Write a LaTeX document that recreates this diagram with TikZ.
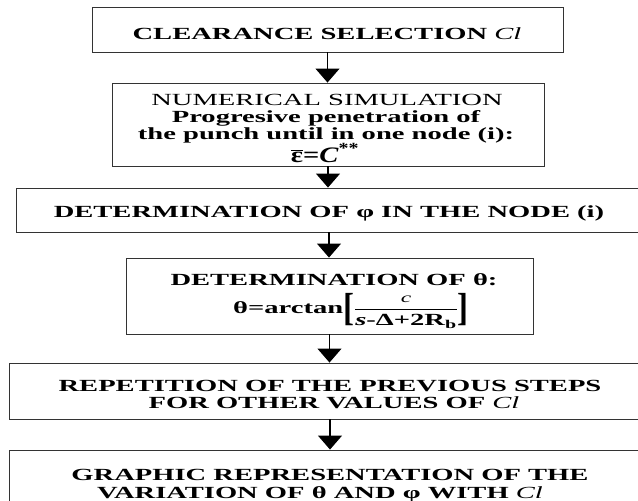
\documentclass[tikz,border=0pt]{standalone}
\usepackage{fontspec}
\usepackage{graphicx}
\setmainfont{Liberation Serif}[FakeStretch=1.68]
\usetikzlibrary{arrows.meta}
\newcommand{\bigbrk}[1]{\ensuremath{\vcenter{\hbox{\scalebox{1.15}[2.3]{#1}}}}}
\begin{document}
\begin{tikzpicture}[x=1pt,y=-1pt,
  box/.style={draw=black!80, line width=0.9pt, inner sep=0pt, rectangle},
  txt/.style={anchor=base, inner sep=0pt, font=\fontsize{17}{19}\selectfont\bfseries},
  arr/.style={draw=black, line width=1.2pt, -{Triangle[width=24pt,length=14pt]}}]
\useasboundingbox (0,0) rectangle (638,501);
% boxes
\node[box, minimum width=471pt, minimum height=45pt] (b1) at (327.5,29.5) {};
\node[box, minimum width=432pt, minimum height=83pt] (b2) at (328,124.5) {};
\node[box, minimum width=626pt, minimum height=44pt] (b3) at (329,210) {};
\node[box, minimum width=407pt, minimum height=76pt] (b4) at (329.5,296) {};
\node[box, minimum width=642pt, minimum height=56pt] (b5) at (330,391) {};
\node[box, minimum width=642pt, minimum height=70pt] (b6) at (330,485) {};
% texts
\node[txt] (t1) at (327,39) {CLEARANCE SELECTION \textmd{\textit{Cl}}};
\node[txt, font=\fontsize{17}{19}\selectfont\mdseries] (t2a) at (327,105) {NUMERICAL SIMULATION};
\node[txt] (t2b) at (326,122) {Progresive penetration of};
\node[txt] (t2c) at (326,139) {the punch until in one node (i):};
\node[txt] (t2d) at (325,162) {\scalebox{1}[1.3]{$\overline{\mbox{ε}}$=\textit{C}\textsuperscript{**}}};
\node[txt] (t3) at (329,217) {DETERMINATION OF φ IN THE NODE (i)};
\node[txt] (t4a) at (334,285) {DETERMINATION OF θ:};
\node[txt, anchor=center] (t4b) at (351,311) {θ=arctan\bigbrk{[}$\displaystyle\frac{\mbox{\fontsize{14}{16}\selectfont\mdseries\textit{c}}}{\mbox{\textit{s}-Δ+2R\textsubscript{b}}}$\bigbrk{]}};
\node[txt] (t5a) at (330,391) {REPETITION OF THE PREVIOUS STEPS};
\node[txt] (t5b) at (334,408) {FOR OTHER VALUES OF \textmd{\textit{Cl}}};
\node[txt] (t6a) at (330,480) {GRAPHIC REPRESENTATION OF THE};
\node[txt] (t6b) at (320,498) {VARIATION OF θ AND φ WITH \textmd{\textit{Cl}}};
% arrows
\draw[arr] (b1.south) -- (b1.south |- b2.north);
\draw[arr] (b2.south) -- (b2.south |- b3.north);
\draw[arr] (b3.south) -- (b3.south |- b4.north);
\draw[arr] (b4.south) -- (b4.south |- b5.north);
\draw[arr] (b5.south) -- (b5.south |- b6.north);
\end{tikzpicture}
\end{document}
